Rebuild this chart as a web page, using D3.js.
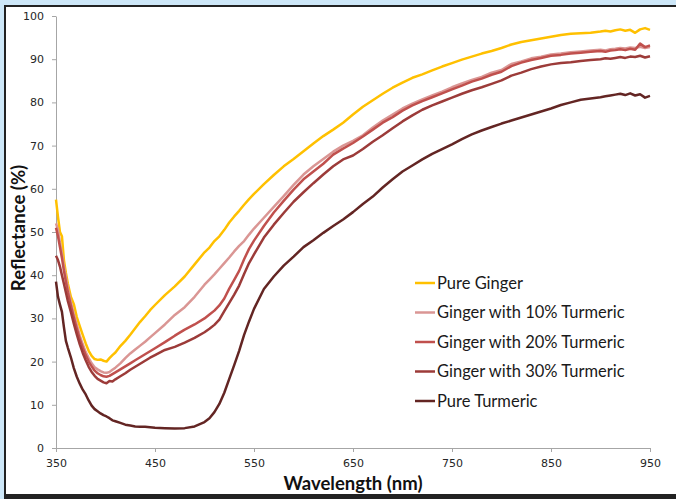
<!DOCTYPE html>
<html>
<head>
<meta charset="utf-8">
<script src="https://cdn.jsdelivr.net/npm/d3@7"></script>
<style>
body { margin: 0; background: #cde7f8; }
svg { display: block; }
.axis .tick text { font-family: "DejaVu Sans", sans-serif; font-size: 11px; fill: #262626; }
.axis path, .axis line { stroke: #a6a6a6; }
.legend text { font-family: Lato, sans-serif; font-size: 16.5px; fill: #1a1a1a; }
.title { font-family: Lato, sans-serif; font-weight: bold; font-size: 18.5px; fill: #111; }
</style>
</head>
<body>
<svg width="676" height="499"></svg>
<script>
const wavelengths = [350, 352, 354, 356, 358, 360, 362, 365, 368, 371, 374, 377, 380, 383, 386, 389, 392, 395, 398, 401, 404, 407, 410, 415, 420, 425, 430, 435, 440, 445, 450, 460, 470, 480, 490, 500, 505, 510, 515, 520, 525, 530, 535, 540, 545, 550, 560, 570, 580, 590, 600, 610, 620, 630, 640, 650, 660, 670, 680, 690, 700, 710, 720, 730, 740, 750, 760, 770, 780, 790, 800, 810, 820, 830, 840, 850, 860, 870, 880, 890, 900, 905, 910, 915, 920, 925, 930, 935, 940, 945, 950];

const pureGinger = [57.5, 53.5, 50.0, 49.0, 43.5, 40.5, 38.0, 35.0, 33.3, 30.3, 28.2, 26.2, 24.2, 22.5, 21.3, 20.6, 20.4, 20.5, 20.2, 20.0, 20.8, 21.5, 22.1, 23.6, 24.8, 26.2, 27.7, 29.2, 30.5, 31.9, 33.1, 35.4, 37.4, 39.7, 42.5, 45.3, 46.4, 47.9, 49.0, 50.5, 52.2, 53.6, 54.9, 56.3, 57.6, 58.8, 61.1, 63.2, 65.2, 66.9, 68.7, 70.5, 72.2, 73.7, 75.3, 77.2, 79.0, 80.5, 82.0, 83.4, 84.6, 85.7, 86.5, 87.4, 88.3, 89.1, 89.9, 90.6, 91.3, 91.9, 92.6, 93.4, 94.0, 94.4, 94.8, 95.2, 95.6, 95.9, 96.0, 96.1, 96.4, 96.6, 96.4, 96.7, 96.9, 96.6, 96.8, 96.1, 96.9, 97.2, 96.8];

const ginger10 = [52.0, 50.5, 47.5, 45.0, 42.0, 39.5, 37.0, 33.8, 31.0, 28.5, 26.0, 24.0, 22.2, 20.8, 19.6, 18.7, 18.2, 17.8, 17.5, 17.4, 17.6, 18.1, 18.6, 19.6, 20.8, 21.9, 22.8, 23.7, 24.6, 25.6, 26.6, 28.6, 30.8, 32.6, 35.0, 37.8, 39.0, 40.2, 41.5, 42.8, 44.1, 45.5, 46.8, 47.9, 49.4, 50.8, 53.3, 55.8, 58.3, 60.9, 63.3, 65.2, 66.9, 68.6, 70.0, 71.1, 72.4, 74.2, 75.8, 77.2, 78.6, 79.7, 80.7, 81.6, 82.5, 83.5, 84.4, 85.2, 85.9, 86.9, 87.5, 88.9, 89.5, 90.2, 90.6, 91.1, 91.3, 91.6, 91.8, 92.0, 92.2, 92.0, 92.3, 92.4, 92.6, 92.5, 92.7, 92.6, 92.9, 92.6, 92.8];

const ginger20 = [51.0, 49.0, 46.5, 44.0, 41.0, 38.5, 36.0, 33.0, 30.2, 27.6, 25.2, 23.2, 21.5, 20.0, 18.9, 17.9, 17.3, 16.9, 16.6, 16.5, 16.7, 17.1, 17.5, 18.2, 18.9, 19.6, 20.3, 21.0, 21.7, 22.4, 23.1, 24.5, 26.0, 27.4, 28.6, 30.0, 30.9, 31.8, 33.0, 34.6, 36.9, 38.9, 41.0, 43.7, 46.1, 48.0, 51.4, 54.5, 57.2, 59.8, 62.2, 64.0, 65.8, 67.9, 69.3, 70.6, 72.1, 73.7, 75.3, 76.6, 78.1, 79.3, 80.3, 81.2, 82.1, 83.0, 83.9, 84.8, 85.5, 86.4, 87.1, 88.4, 89.2, 89.8, 90.3, 90.8, 91.0, 91.3, 91.5, 91.7, 91.9, 91.7, 92.0, 92.1, 92.3, 92.1, 92.4, 92.2, 93.6, 92.8, 93.2];

const ginger30 = [44.5, 43.5, 42.0, 40.0, 38.0, 36.0, 34.0, 31.5, 28.8, 26.3, 24.0, 22.0, 20.3, 18.8, 17.6, 16.7, 16.0, 15.6, 15.2, 15.0, 15.5, 15.4, 15.9, 16.6, 17.3, 18.1, 18.8, 19.5, 20.2, 20.9, 21.5, 22.7, 23.4, 24.4, 25.5, 26.8, 27.6, 28.5, 29.7, 31.7, 33.6, 35.5, 37.6, 40.3, 42.8, 44.8, 48.7, 51.7, 54.4, 57.0, 59.2, 61.3, 63.3, 65.2, 66.8, 67.7, 69.2, 70.9, 72.4, 74.0, 75.6, 77.0, 78.3, 79.3, 80.2, 81.1, 82.0, 82.8, 83.5, 84.3, 85.1, 86.2, 86.9, 87.7, 88.3, 88.8, 89.1, 89.3, 89.6, 89.8, 90.0, 90.2, 90.1, 90.3, 90.5, 90.3, 90.6, 90.5, 90.8, 90.4, 90.7];

const pureTurmeric = [38.5, 35.0, 33.2, 31.5, 28.0, 24.8, 23.2, 21.0, 18.5, 16.5, 14.9, 13.5, 12.4, 11.0, 9.8, 9.0, 8.5, 8.0, 7.6, 7.3, 6.9, 6.4, 6.2, 5.8, 5.4, 5.2, 5.0, 4.9, 4.9, 4.8, 4.7, 4.6, 4.5, 4.6, 5.0, 6.0, 6.9, 8.3, 10.2, 12.8, 16.0, 19.2, 22.5, 26.2, 29.3, 32.2, 36.8, 39.7, 42.2, 44.3, 46.5, 48.1, 49.8, 51.4, 52.9, 54.6, 56.5, 58.2, 60.3, 62.2, 64.0, 65.4, 66.8, 68.1, 69.2, 70.3, 71.5, 72.6, 73.5, 74.3, 75.1, 75.8, 76.5, 77.2, 77.9, 78.6, 79.4, 80.0, 80.6, 80.9, 81.2, 81.4, 81.6, 81.8, 82.0, 81.7, 82.1, 81.6, 81.9, 81.1, 81.5];

const seriesNames = ['Pure Ginger', 'Ginger with 10% Turmeric', 'Ginger with 20% Turmeric', 'Ginger with 30% Turmeric', 'Pure Turmeric'];
const seriesColors = ['#ffc000', '#da9694', '#c0504d', '#9c3b39', '#632523'];
const xTicks = [350, 450, 550, 650, 750, 850, 950];
const yTicks = [0, 10, 20, 30, 40, 50, 60, 70, 80, 90, 100];

const series = [pureGinger, ginger10, ginger20, ginger30, pureTurmeric].map((values, i) => ({
    name: seriesNames[i],
    color: seriesColors[i],
    points: wavelengths.map((w, j) => [w, values[j]])
}));

const svg = d3.select('svg');

// frame around the chart
svg.append('rect').attr('x', 4).attr('y', 5).attr('width', 672).attr('height', 494).attr('fill', '#222');
svg.append('rect').attr('x', 6).attr('y', 7).attr('width', 670).attr('height', 487).attr('fill', '#fff');

const x = d3.scaleLinear().domain([350, 950]).range([56, 650]);
const y = d3.scaleLinear().domain([0, 100]).range([448, 16]);

svg.append('g')
    .attr('class', 'axis')
    .attr('transform', 'translate(0, 448)')
    .call(d3.axisBottom(x).tickValues(xTicks).tickSize(4).tickSizeOuter(0).tickPadding(7));

svg.append('g')
    .attr('class', 'axis')
    .attr('transform', 'translate(56, 0)')
    .call(d3.axisLeft(y).tickValues(yTicks).tickSize(4).tickSizeOuter(0).tickPadding(8));

const line = d3.line()
    .x(function(d) { return x(d[0]); })
    .y(function(d) { return y(d[1]); });

svg.append('g').selectAll('path').data(series)
    .enter().append('path')
    .attr('fill', 'none')
    .attr('stroke', function(d) { return d.color; })
    .attr('stroke-width', 2.5)
    .attr('stroke-linejoin', 'round')
    .attr('d', function(d) { return line(d.points); });

const legend = svg.append('g').attr('class', 'legend')
    .selectAll('g').data(series)
    .enter().append('g')
    .attr('transform', function(d, i) { return `translate(415, ${283 + i * 29.5})`; });

legend.append('line')
    .attr('x2', 20)
    .attr('stroke', function(d) { return d.color; })
    .attr('stroke-width', 2.5);

legend.append('text')
    .attr('x', 22)
    .attr('dy', '0.35em')
    .text(function(d) { return d.name; });

svg.append('text')
    .attr('class', 'title')
    .attr('x', 353)
    .attr('y', 490)
    .attr('text-anchor', 'middle')
    .text('Wavelength (nm)');

svg.append('text')
    .attr('class', 'title')
    .attr('transform', 'translate(25, 228) rotate(-90)')
    .attr('text-anchor', 'middle')
    .text('Reflectance (%)');
</script>
</body>
</html>
